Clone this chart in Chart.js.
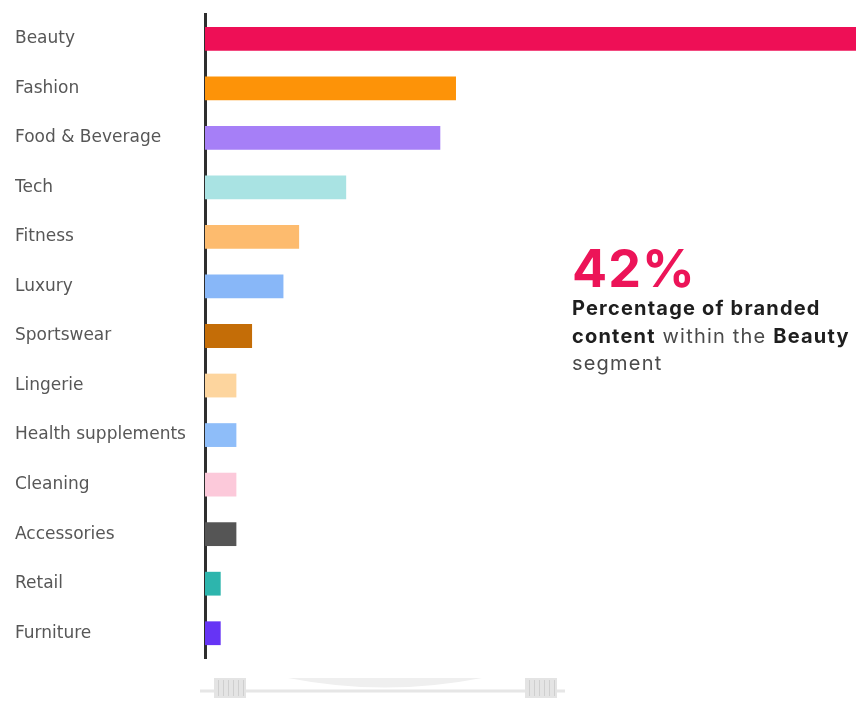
<!DOCTYPE html>
<html>
<head>
<meta charset="utf-8">
<script src="https://cdn.jsdelivr.net/npm/chart.js@4.4.1/dist/chart.umd.min.js"></script>
<style>
  html, body { margin: 0; padding: 0; background: #fff; overflow: hidden; }
  #wrap { position: relative; width: 856px; height: 702px; }
  #note { position: absolute; left: 572px; top: 238px; width: 292px; font-family: Inter, "Open Sans", sans-serif; }
  #big { font-size: 52px; font-weight: 700; color: #ec1458; line-height: 62px; letter-spacing: 1px; }
  #txt { font-size: 20px; line-height: 27.5px; color: #4a4a4a; letter-spacing: 1.2px; margin-top: -5px; }
  #txt b { color: #1e1e1e; font-weight: 700; }
</style>
</head>
<body>
<div id="wrap">
  <canvas id="c" width="856" height="702"></canvas>
  <div id="note">
    <div id="big"></div>
    <div id="txt"><b>Percentage of branded content</b> within the <b>Beauty</b> segment</div>
  </div>
</div>
<script>
const categories = ["Beauty", "Fashion", "Food & Beverage", "Tech", "Fitness", "Luxury", "Sportswear", "Lingerie", "Health supplements", "Cleaning", "Accessories", "Retail", "Furniture"];
const shares = [42, 16, 15, 9, 6, 5, 3, 2, 2, 2, 2, 1, 1];
const barColors = ["#ee0f56", "#fd9308", "#a67ff7", "#a9e3e3", "#fdbb6e", "#88b7f8", "#c46d07", "#fdd59e", "#8ebdf9", "#fcc9da", "#555555", "#2db5ad", "#6634f5"];
const highlightIndex = 0;

document.getElementById('big').textContent = shares[highlightIndex] + '%';

const sliderDecor = {
  id: 'sliderDecor',
  afterDraw(chart) {
    const ctx = chart.ctx;
    ctx.save();
    ctx.strokeStyle = '#e6e6e6';
    ctx.lineWidth = 3;
    ctx.beginPath(); ctx.moveTo(200, 691); ctx.lineTo(565, 691); ctx.stroke();
    ctx.fillStyle = '#efefef';
    ctx.beginPath();
    ctx.moveTo(288, 678);
    ctx.quadraticCurveTo(385, 697, 482, 678);
    ctx.closePath(); ctx.fill();
    [[214, 246], [525, 557]].forEach(([a, b]) => {
      ctx.fillStyle = '#e4e4e4';
      ctx.fillRect(a, 678, b - a, 20);
      ctx.strokeStyle = '#cfcfcf'; ctx.lineWidth = 1;
      for (let x = a + 4; x < b - 2; x += 5) {
        ctx.beginPath(); ctx.moveTo(x + 0.5, 680); ctx.lineTo(x + 0.5, 696); ctx.stroke();
      }
    });
    ctx.restore();
  }
};

new Chart(document.getElementById('c'), {
  type: 'bar',
  data: {
    labels: categories,
    datasets: [{
      data: shares,
      backgroundColor: barColors,
      borderWidth: 0,
      categoryPercentage: 0.8,
      barPercentage: 0.6
    }]
  },
  options: {
    indexAxis: 'y',
    responsive: false,
    animation: false,
    devicePixelRatio: 1,
    layout: { padding: { top: 14, bottom: 44, left: 15, right: 0 } },
    plugins: { legend: { display: false }, tooltip: { enabled: false } },
    scales: {
      x: { display: false, min: 0, max: 41.5 },
      y: {
        grid: { display: false, drawTicks: false },
        border: { display: true, width: 3, color: '#2e2e2e' },
        afterFit(scale) { scale.width = 190; },
        ticks: {
          crossAlign: 'far',
          padding: 0,
          color: '#575757',
          font: { family: 'DejaVu Sans', size: 17 }
        }
      }
    }
  },
  plugins: [sliderDecor]
});
</script>
</body>
</html>
